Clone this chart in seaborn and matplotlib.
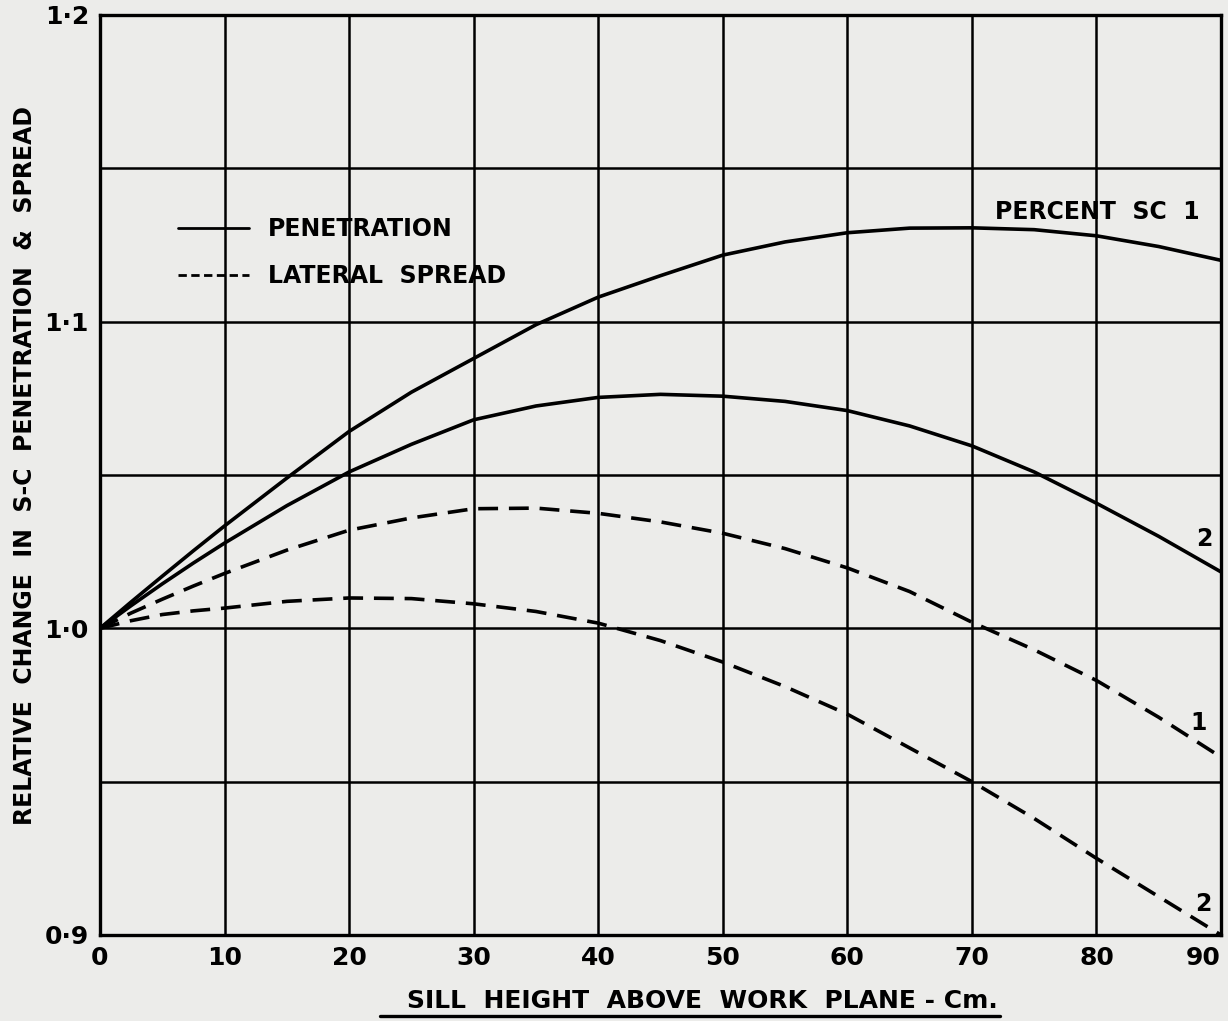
import numpy as np
import pandas as pd
import seaborn as sns
import matplotlib
matplotlib.use("Agg")
import matplotlib.pyplot as plt
from matplotlib.lines import Line2D

# ---- data ----
sill_height = [0, 2.5, 5, 7.5, 10, 15, 20, 25, 30, 35, 40, 45, 50, 55, 60, 65, 70, 75, 80, 85, 90]
penetration_1 = [1.0, 1.0086, 1.017, 1.0253, 1.0334, 1.049, 1.0642, 1.077, 1.088, 1.099, 1.108, 1.115,
                 1.1217, 1.126, 1.129, 1.1305, 1.1306, 1.130, 1.128, 1.1245, 1.120]
penetration_2 = [1.0, 1.0074, 1.0145, 1.0213, 1.0278, 1.040, 1.051, 1.060, 1.068, 1.0725, 1.0753, 1.0763,
                 1.0757, 1.074, 1.071, 1.066, 1.0595, 1.051, 1.0408, 1.030, 1.0184]
spread_1 = [1.0, 1.0050, 1.0095, 1.0138, 1.0179, 1.0255, 1.032, 1.036, 1.039, 1.0392, 1.0375, 1.0347,
            1.031, 1.026, 1.0197, 1.012, 1.002, 0.993, 0.983, 0.971, 0.958]
spread_2 = [1.0, 1.0025, 1.0045, 1.0057, 1.0066, 1.0088, 1.0099, 1.0097, 1.008, 1.0055, 1.0017, 0.996,
            0.989, 0.981, 0.972, 0.961, 0.950, 0.938, 0.925, 0.9125, 0.900]

x_ticks = [0, 10, 20, 30, 40, 50, 60, 70, 80, 90]
y_ticks = [0.9, 1.0, 1.1, 1.2]
y_tick_labels = ["0·9", "1·0", "1·1", "1·2"]
y_grid = [0.95, 1.05, 1.15]

sns.set_theme(style="white")
plt.rcParams['font.family'] = ['DejaVu Sans']
plt.rcParams['text.color'] = 'black'
plt.rcParams['xtick.color'] = 'black'
plt.rcParams['ytick.color'] = 'black'
plt.rcParams['axes.labelcolor'] = 'black'
paper = '#ececea'

fig = plt.figure(figsize=(12.28, 10.21), dpi=100, facecolor=paper)
ax = fig.add_axes([100 / 1228, 1 - 935 / 1021, 1121 / 1228, 920 / 1021])
ax.set_facecolor(paper)

lw = 2.6
for ys, ls in [(penetration_1, '-'), (penetration_2, '-'),
               (spread_1, (0, (5.5, 3))), (spread_2, (0, (5.5, 3)))]:
    sns.lineplot(x=sill_height, y=ys, ax=ax, color='black', linewidth=lw,
                 linestyle=ls, legend=False)

ax.set_xlim(0, 90)
ax.set_ylim(0.9, 1.2)

# grid
for xv in x_ticks[1:-1]:
    ax.axvline(xv, color='black', lw=1.8, zorder=0)
for yv in [1.0, 1.1] + y_grid:
    ax.axhline(yv, color='black', lw=1.8, zorder=0)

for s in ax.spines.values():
    s.set_visible(True)
    s.set_color('black')
    s.set_linewidth(2.4)

ax.set_xticks(x_ticks)
ax.set_xticklabels([str(v) for v in x_ticks], fontsize=18, fontweight='bold')
ax.set_yticks(y_ticks)
ax.set_yticklabels(y_tick_labels, fontsize=18, fontweight='bold')
ax.tick_params(axis='both', length=0, pad=8)
xt = ax.get_xticklabels()
xt[-1].set_horizontalalignment('right')
xt[-1].set_x(90)
ax.set_xlabel('')
ax.set_ylabel('')

# legend
handles = [Line2D([], [], color='black', lw=2.0, linestyle='-'),
           Line2D([], [], color='black', lw=2.0, linestyle=(0, (3, 1.6)))]
leg = ax.legend(handles, ['PENETRATION', 'LATERAL  SPREAD'], loc='upper left',
                bbox_to_anchor=(0.051, 0.803), frameon=False, handlelength=3.0,
                handletextpad=0.8, labelspacing=0.95,
                prop={'size': 17, 'weight': 'bold'})

# curve labels
ax.text(88.3, 1.1357, 'PERCENT  SC  1', ha='right', va='center', fontsize=17, fontweight='bold')
ax.text(88.7, 1.029, '2', ha='center', va='center', fontsize=17, fontweight='bold')
ax.text(88.2, 0.969, '1', ha='center', va='center', fontsize=17, fontweight='bold')
ax.text(88.6, 0.910, '2', ha='center', va='center', fontsize=17, fontweight='bold')

# axis titles
fig.text(702 / 1228, 1 - 1001 / 1021, 'SILL  HEIGHT  ABOVE  WORK  PLANE - Cm.',
         ha='center', va='center', fontsize=18, fontweight='bold')
fig.add_artist(Line2D([380 / 1228, 1000 / 1228], [1 - 1016 / 1021, 1 - 1016 / 1021],
                      color='black', lw=2.4, transform=fig.transFigure))
fig.text(25 / 1228, 1 - 465 / 1021, 'RELATIVE  CHANGE  IN  S-C  PENETRATION  &  SPREAD',
         ha='center', va='center', rotation=90, fontsize=17, fontweight='bold')

fig.savefig('out.png', dpi=100, facecolor=paper)
